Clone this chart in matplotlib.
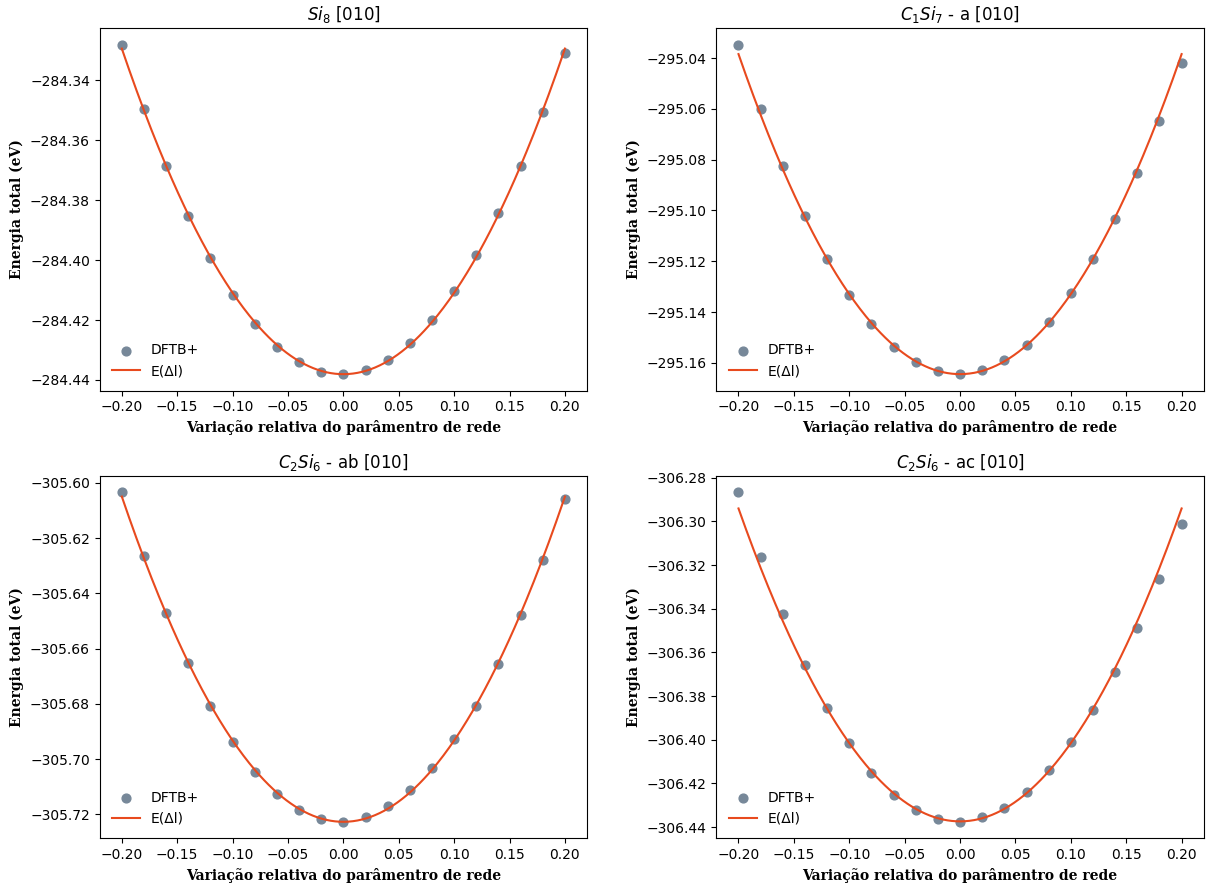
import numpy as np
import matplotlib
matplotlib.use("Agg")
import matplotlib.pyplot as plt

# Relative lattice-parameter variation (same grid for every structure)
delta = [-0.20, -0.18, -0.16, -0.14, -0.12, -0.10, -0.08, -0.06, -0.04, -0.02, 0.00,
         0.02, 0.04, 0.06, 0.08, 0.10, 0.12, 0.14, 0.16, 0.18, 0.20]

# DFTB+ total energies (eV)
e_si8 = [-284.3281, -284.3494, -284.3684, -284.3851, -284.3994, -284.4116, -284.4212,
         -284.4289, -284.4341, -284.4372, -284.4381, -284.4368, -284.4333, -284.4278,
         -284.4201, -284.4102, -284.3984, -284.3844, -284.3686, -284.3506, -284.3307]

e_c1si7_a = [-295.0348, -295.0600, -295.0826, -295.1022, -295.1191, -295.1333, -295.1447,
             -295.1536, -295.1597, -295.1634, -295.1645, -295.1629, -295.1588, -295.1528,
             -295.1439, -295.1327, -295.1191, -295.1033, -295.0851, -295.0646, -295.0421]

e_c2si6_ab = [-305.6035, -305.6266, -305.6472, -305.6653, -305.6808, -305.6938, -305.7045,
              -305.7126, -305.7183, -305.7217, -305.7227, -305.7211, -305.7171, -305.7113,
              -305.7032, -305.6926, -305.6808, -305.6655, -305.6477, -305.6279, -305.6059]

e_c2si6_ac = [-306.2867, -306.3164, -306.3426, -306.3656, -306.3853, -306.4016, -306.4150,
              -306.4251, -306.4321, -306.4362, -306.4376, -306.4356, -306.4312, -306.4239,
              -306.4138, -306.4010, -306.3862, -306.3690, -306.3489, -306.3262, -306.3012]

titles = [r"$Si_8$ [010]", r"$C_1Si_7$ - a [010]",
          r"$C_2Si_6$ - ab [010]", r"$C_2Si_6$ - ac [010]"]
energies = [e_si8, e_c1si7_a, e_c2si6_ab, e_c2si6_ac]

POINT_COLOR = "#778899"
FIT_COLOR = "#E84A1E"
label_font = dict(family="DejaVu Serif", weight="bold", size=10)

fig = plt.figure(figsize=(12.08, 8.86), dpi=100)
lefts = [0.0825, 0.593]
bottoms = [0.559, 0.0538]
w, h = 0.4035, 0.409

x = np.array(delta)
for i, (title, e) in enumerate(zip(titles, energies)):
    r, c = divmod(i, 2)
    ax = fig.add_axes([lefts[c], bottoms[r], w, h])
    e = np.array(e)
    # Symmetric harmonic fit E(Δl) = E0 + k·Δl²
    k, e0 = np.polyfit(x**2, e, 1)
    xf = np.linspace(x.min(), x.max(), 300)
    sc = ax.scatter(x, e, s=40, color=POINT_COLOR, zorder=2, label="DFTB+")
    ln, = ax.plot(xf, e0 + k * xf**2, color=FIT_COLOR, lw=1.5, zorder=3, label="E(Δl)")
    ax.set_title(title, fontsize=12)
    ax.set_xlabel("Variação relativa do parâmentro de rede", fontdict=label_font)
    ax.set_ylabel("Energia total (eV)", fontdict=label_font)
    ax.ticklabel_format(axis="y", useOffset=False)
    ax.set_xticks(np.arange(-0.20, 0.201, 0.05))
    ax.legend(handles=[sc, ln], loc="lower left", frameon=False, fontsize=10)

fig.savefig("out.png", dpi=100)
